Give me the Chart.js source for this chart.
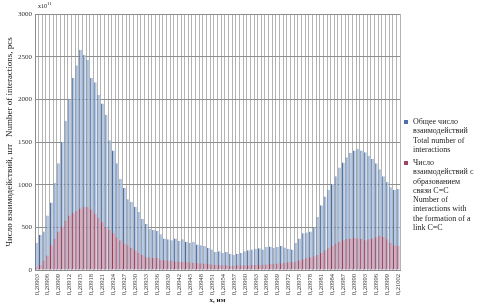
<!DOCTYPE html>
<html>
<head>
<meta charset="utf-8">
<script src="https://cdn.jsdelivr.net/npm/chart.js@4"></script>
<style>
  body { margin: 0; background: #fff; }
  #wrap { position: relative; width: 480px; height: 306px; font-family: "Liberation Serif", serif; color: #222; }
  #mult { position: absolute; left: 38px; top: 1px; font-size: 6px; }
  .leg { position: absolute; left: 413px; font-size: 8px; line-height: 9.3px; white-space: nowrap; }
  .mark { position: absolute; left: 404px; width: 4px; height: 4px; }
</style>
</head>
<body>
<div id="wrap">
  <canvas id="myChart" width="480" height="306"></canvas>
  <div id="mult">x10<sup style="font-size:5px">11</sup></div>
  <div class="mark" style="top:120px;background:#4f6fa5"></div>
  <div class="leg" style="top:117px">Общее число<br>взаимодействий<br>Total number of<br>interactions</div>
  <div class="mark" style="top:161px;background:#a04466"></div>
  <div class="leg" style="top:158px">Число<br>взаимодействий с<br>образованием<br>связи С=С<br>Number of<br>interactions with<br>the formation of a<br>link C=C</div>
</div>
<script>
// категории х, нм
const categories = [
  '0,20903','0,20904','0,20905','0,20906','0,20907','0,20908','0,20909','0,20910','0,20911','0,20912',
  '0,20913','0,20914','0,20915','0,20916','0,20917','0,20918','0,20919','0,20920','0,20921','0,20922',
  '0,20923','0,20924','0,20925','0,20926','0,20927','0,20928','0,20929','0,20930','0,20931','0,20932',
  '0,20933','0,20934','0,20935','0,20936','0,20937','0,20938','0,20939','0,20940','0,20941','0,20942',
  '0,20943','0,20944','0,20945','0,20946','0,20947','0,20948','0,20949','0,20950','0,20951','0,20952',
  '0,20953','0,20954','0,20955','0,20956','0,20957','0,20958','0,20959','0,20960','0,20961','0,20962',
  '0,20963','0,20964','0,20965','0,20966','0,20967','0,20968','0,20969','0,20970','0,20971','0,20972',
  '0,20973','0,20974','0,20975','0,20976','0,20977','0,20978','0,20979','0,20980','0,20981','0,20982',
  '0,20983','0,20984','0,20985','0,20986','0,20987','0,20988','0,20989','0,20990','0,20991','0,20992',
  '0,20993','0,20994','0,20995','0,20996','0,20997','0,20998','0,20999','0,21000','0,21001','0,21002'
];

// общее число взаимодействий
const totalValues = [
  320, 410, 450, 640, 790, 1020, 1250, 1500, 1750, 2000,
  2250, 2400, 2580, 2520, 2460, 2250, 2200, 2050, 1950, 1820,
  1520, 1400, 1250, 1070, 960, 830, 800, 740, 680, 600,
  540, 480, 470, 460, 420, 370, 360, 350, 370, 340,
  360, 330, 320, 330, 300, 290, 280, 260, 240, 210,
  220, 200, 210, 190, 180, 190, 200, 220, 230, 240,
  250, 255, 240, 270, 275, 260, 270, 280, 265, 250,
  240, 320, 370, 430, 440, 450, 500, 620, 760, 860,
  940, 1010, 1100, 1200, 1260, 1320, 1370, 1400, 1420, 1400,
  1380, 1340, 1300, 1250, 1180, 1100, 1030, 970, 940, 950
];

// число взаимодействий с образованием связи C=C
const ccValues = [
  30, 60, 110, 170, 290, 370, 450, 510, 580, 640,
  670, 690, 720, 740, 740, 710, 660, 610, 560, 500,
  470, 430, 380, 350, 310, 290, 260, 230, 200, 180,
  150, 150, 140, 140, 120, 115, 110, 110, 100, 100,
  95, 95, 90, 85, 80, 80, 75, 70, 65, 60,
  60, 55, 55, 50, 50, 55, 55, 55, 55, 60,
  60, 60, 65, 65, 70, 70, 75, 80, 85, 90,
  95, 100, 110, 125, 140, 150, 160, 175, 200, 230,
  255, 280, 310, 330, 350, 365, 370, 375, 370, 365,
  350, 360, 370, 385, 405, 390, 360, 320, 290, 280
];

const yTicks = { min: 0, max: 3000, step: 500 };

const fontTick = { family: 'Liberation Serif', size: 7 };

const data = {
  labels: categories,
  datasets: [
    {
      label: 'Число взаимодействий с образованием связи С=С',
      data: ccValues,
      backgroundColor: '#d9aabb',
      borderColor: '#9c3c5e',
      borderWidth: { left: 1, right: 0, top: 0, bottom: 0 },
      borderSkipped: false,
      barPercentage: 0.8,
      categoryPercentage: 1,
      order: 0
    },
    {
      label: 'Общее число взаимодействий',
      data: totalValues,
      backgroundColor: '#b3c8e4',
      borderColor: '#4a6a9e',
      borderWidth: { left: 1, right: 0, top: 0, bottom: 0 },
      borderSkipped: false,
      barPercentage: 0.8,
      categoryPercentage: 1,
      order: 1
    }
  ]
};

const config = {
  type: 'bar',
  data: data,
  options: {
    responsive: false,
    animation: false,
    devicePixelRatio: 1,
    layout: { padding: { left: 0, right: 80, top: 14, bottom: 0 } },
    plugins: {
      legend: { display: false },
      tooltip: { enabled: false }
    },
    scales: {
      x: {
        stacked: true,
        afterFit: function(scale) { scale.height = 36; },
        grid: { color: '#b4b4b4', lineWidth: 1, drawTicks: false, offset: true },
        border: { color: '#8c8c8c' },
        ticks: {
          autoSkip: false,
          minRotation: 90,
          maxRotation: 90,
          padding: 4,
          color: '#333',
          font: { family: 'Liberation Serif', size: 6.5 },
          callback: function(val, idx) { return idx % 3 === 0 ? categories[idx] : ''; }
        },
        title: {
          display: true,
          text: 'х, нм',
          color: '#222',
          font: { family: 'Liberation Serif', size: 7, weight: 'bold' },
          padding: { top: 0, bottom: 2 }
        }
      },
      y: {
        stacked: false,
        min: yTicks.min,
        max: yTicks.max,
        afterFit: function(scale) { scale.width = 35; },
        grid: { color: '#8f8f8f', lineWidth: 1, drawTicks: false },
        border: { color: '#8c8c8c' },
        ticks: {
          stepSize: yTicks.step,
          padding: 3,
          color: '#333',
          font: fontTick,
          callback: function(v) { return String(v); }
        },
        title: {
          display: true,
          text: 'Число взаимодействий, шт   Number of interactions, pcs',
          color: '#222',
          font: { family: 'Liberation Serif', size: 9 },
          padding: { top: 4, bottom: 0 }
        }
      }
    }
  }
};

const myChart = new Chart(document.getElementById('myChart'), config);
</script>
</body>
</html>
